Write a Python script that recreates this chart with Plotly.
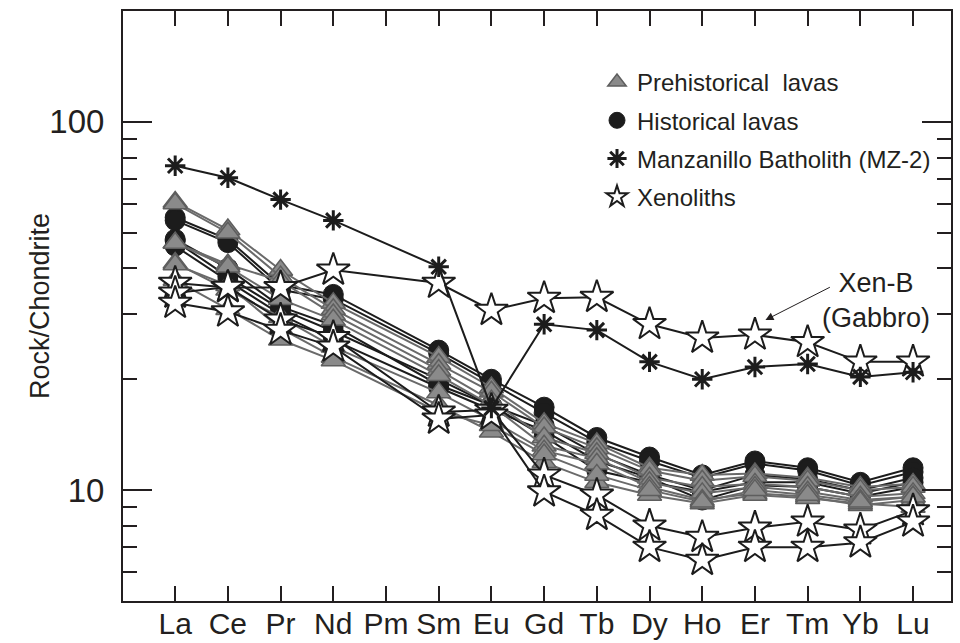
import plotly.graph_objects as go

elements = ["La", "Ce", "Pr", "Nd", "Pm", "Sm", "Eu", "Gd", "Tb", "Dy", "Ho", "Er", "Tm", "Yb", "Lu"]

# Historical lavas (black circles) - Pm not analysed (None)
historical = [
    [55, 48, 36, 34, None, 24, 20, 16.8, 13.9, 12.3, 11.0, 12.0, 11.5, 10.5, 11.5],
    [54, 47, 35, 33, None, 23.5, 19.5, 16.2, 13.5, 12.0, 10.8, 11.8, 11.3, 10.3, 11.2],
    [48, 40, 31.5, 28, None, 19.3, 17, 14.0, 11.3, 10.5, 9.9, 10.5, 10.5, 9.8, 10.5],
    [47.5, 38, 31, 27, None, 20, 17, 15.0, 12.5, 11.0, 10.0, 11.0, 10.7, 10.0, 10.8],
    [46, 37, 30, 25.6, None, 19, 16.5, 14.5, 12.0, 10.8, 9.4, 10.3, 10.2, 9.6, 10.2],
]

# Prehistorical lavas (grey triangles)
prehistorical = [
    [60.6, 51, 39.6, 32.2, None, 23, 19, 15.2, 13.4, 11.5, 11.0, 11.1, 10.8, 10.2, 10.4],
    [60, 50, 38, 31, None, 22, 18.5, 14.8, 13.0, 11.3, 10.6, 10.9, 10.6, 10.0, 10.2],
    [47, 41, 37, 30, None, 21.2, 17.5, 13.9, 12.6, 10.8, 10.2, 10.4, 10.2, 9.6, 9.8],
    [46.9, 40.4, 33, 29, None, 20.5, 17, 13.2, 12.2, 10.5, 9.8, 10.2, 9.9, 9.4, 9.6],
    [41.4, 35, 29.5, 24.5, None, 18.4, 15.5, 12.8, 11.8, 10.2, 9.4, 9.8, 9.6, 9.1, 9.4],
    [41, 36, 27.5, 23, None, 17, 14.4, 11.9, 10.5, 9.7, 9.2, 9.7, 9.5, 9.2, 9.0],
    [37.2, 31, 25.6, 22.5, None, 16.3, 15, 12.5, 11.0, 10.0, 9.3, 10.0, 9.7, 9.3, 9.6],
]

# Xenoliths (open stars); first one is Xen-B (Gabbro)
xenoliths = [
    [36.5, 35.5, 35.5, 39.6, None, 36.5, 30.8, 33.2, 33.4, 28.2, 25.9, 26.4, 25.2, 22.3, 22.3],
    [34.3, 35.6, 29, 26, None, 16.3, 16.5, 11.0, 9.7, 8.0, 7.45, 7.9, 8.2, 7.8, 8.8],
    [32.2, 30.5, 27.2, 24.5, None, 15.6, 16.0, 9.9, 8.55, 7.0, 6.45, 7.0, 7.0, 7.2, 8.2],
]

# Manzanillo Batholith (MZ-2)
mz2 = [76, 70.5, 61.5, 54, None, 40.4, 16.7, 28.2, 27.2, 22.3, 20.0, 21.6, 22.0, 20.3, 20.9]

series_names = ["Prehistorical  lavas", "Historical lavas", "Manzanillo Batholith (MZ-2)", "Xenoliths"]
y_tick_vals = [10, 100]
y_tick_text = ["10", "100"]
y_minor_vals = [6, 7, 8, 9, 20, 30, 40, 50, 60, 70, 80, 90]

xpos = list(range(len(elements)))
FONT = "Liberation Sans, Arial, Helvetica, sans-serif"

tri = dict(symbol="triangle-up", size=21, color="#8a8a8a", line=dict(color="#5e5e5e", width=1.5))
circ = dict(symbol="circle", size=20, color="#1c1c1c", line=dict(color="#1c1c1c", width=1))
star = dict(symbol="star", size=25, color="white", line=dict(color="#1c1c1c", width=2))
ast = dict(symbol="asterisk-open", size=17, color="#1c1c1c", line=dict(color="#1c1c1c", width=3))

fig = go.Figure()

for s in historical:
    fig.add_trace(go.Scatter(x=xpos, y=s, mode="lines+markers", connectgaps=True,
                             line=dict(color="#1c1c1c", width=2), marker=circ, showlegend=False))
for s in prehistorical:
    fig.add_trace(go.Scatter(x=xpos, y=s, mode="lines+markers", connectgaps=True,
                             line=dict(color="#6a6a6a", width=2), marker=tri, showlegend=False))
for s in xenoliths:
    fig.add_trace(go.Scatter(x=xpos, y=s, mode="lines+markers", connectgaps=True,
                             line=dict(color="#1c1c1c", width=2), marker=star, showlegend=False))
fig.add_trace(go.Scatter(x=xpos, y=mz2, mode="lines+markers", connectgaps=True,
                         line=dict(color="#1c1c1c", width=2), marker=ast, showlegend=False))

# legend entries (markers only)
for name, mk in zip(series_names, [tri, circ, ast, star]):
    fig.add_trace(go.Scatter(x=[None], y=[None], mode="markers", marker=mk, name=name,
                             legendgroup=name, showlegend=True))

fig.update_layout(
    width=960, height=643,
    margin=dict(l=123, r=9, t=11, b=42),
    paper_bgcolor="white", plot_bgcolor="white",
    font=dict(family=FONT, color="#231f20"),
    legend=dict(x=(597 - 123) / 828, y=1 - (60 - 11) / 590, xanchor="left", yanchor="top",
                xref="paper", yref="paper",
                font=dict(size=24, family=FONT, color="#231f20"), bgcolor="rgba(0,0,0,0)",
                tracegroupgap=4, itemsizing="trace"),
    annotations=[
        dict(text="Rock/Chondrite", xref="paper", yref="paper", x=(40 - 123) / 828, y=0.5,
             textangle=-90, showarrow=False, font=dict(size=27, family=FONT, color="#231f20"),
             xanchor="center", yanchor="middle"),
        dict(text="Xen-B<br>(Gabbro)", xref="x", yref="y", x=13.3, y=1.515, showarrow=False,
             font=dict(size=27, family=FONT, color="#231f20"), xanchor="center", yanchor="middle"),
        dict(text="", xref="x", yref="y", x=11.2, y=1.462, axref="x", ayref="y", ax=12.45, ay=1.553,
             showarrow=True, arrowhead=2, arrowsize=1.6, arrowwidth=1, arrowcolor="#231f20"),
    ],
)

fig.update_xaxes(
    range=[-0.99, 14.72], tickmode="array", tickvals=xpos, ticktext=elements,
    ticks="inside", ticklen=15, tickwidth=2, tickcolor="#231f20",
    showline=True, linewidth=2, linecolor="#231f20", mirror="ticks",
    showgrid=False, zeroline=False, tickfont=dict(size=30, family=FONT, color="#231f20"),
    ticklabelstandoff=-5, automargin=False,
)
fig.update_yaxes(
    type="log", range=[0.69897, 2.30103], tickmode="array", tickvals=y_tick_vals, ticktext=y_tick_text,
    ticks="inside", ticklen=29, tickwidth=2, tickcolor="#231f20",
    minor=dict(tickmode="array", tickvals=y_minor_vals, ticks="inside", ticklen=14, tickwidth=2,
               tickcolor="#231f20", showgrid=False),
    showline=True, linewidth=2, linecolor="#231f20", mirror="ticks",
    showgrid=False, zeroline=False, tickfont=dict(size=33, family=FONT, color="#231f20"),
    ticklabelstandoff=10, automargin=False,
)

fig.write_html("out.html")
